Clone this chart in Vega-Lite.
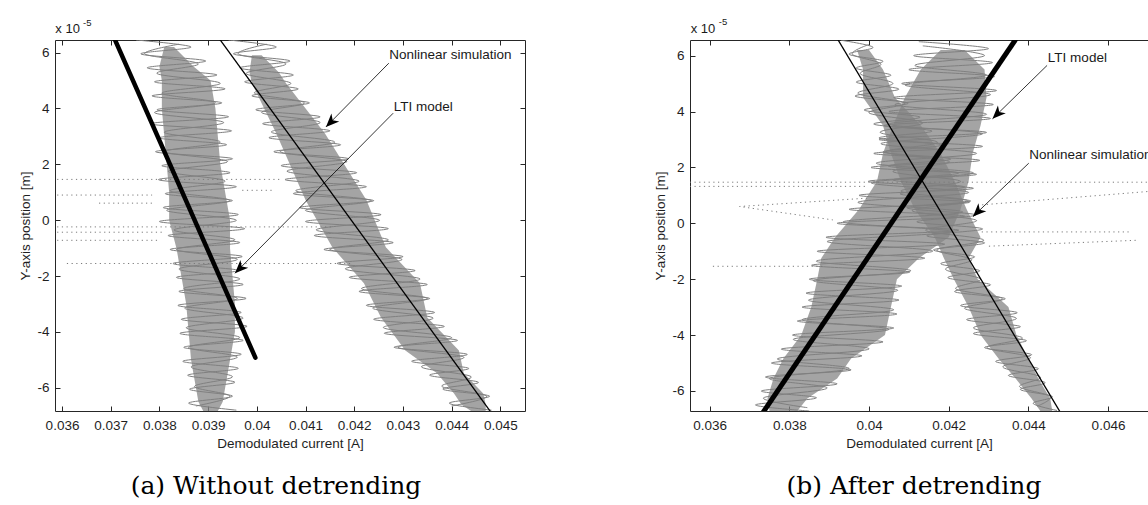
{
"$schema": "https://vega.github.io/schema/vega-lite/v6.json",
"padding": {"left": 18, "top": 16, "right": 0, "bottom": 0},
"spacing": 127,
"config": {
 "view": {"stroke": null},
 "axis": {"grid": false, "domainColor": "#262626", "tickColor": "#262626", "labelColor": "#1f1f1f", "titleColor": "#1f1f1f", "labelFont": "Liberation Sans", "titleFont": "Liberation Sans", "labelFontSize": 13.5, "titleFontSize": 13.5, "titleFontWeight": "normal", "domainWidth": 1, "tickWidth": 1, "labelFlush": false, "labelOverlap": false}
},
"datasets": {
 "aCore": [
  {"c":"L","y":6.2,"x":0.0381,"x2":0.0383},{"c":"L","y":5.5,"x":0.038,"x2":0.0387},{"c":"L","y":5.0,"x":0.03805,"x2":0.03905},{"c":"L","y":4.0,"x":0.03805,"x2":0.03915},{"c":"L","y":3.0,"x":0.0381,"x2":0.0392},{"c":"L","y":2.0,"x":0.03815,"x2":0.03925},{"c":"L","y":1.0,"x":0.0382,"x2":0.03935},{"c":"L","y":0.0,"x":0.0382,"x2":0.03945},{"c":"L","y":-1.0,"x":0.03835,"x2":0.03945},{"c":"L","y":-2.0,"x":0.03845,"x2":0.0395},{"c":"L","y":-3.0,"x":0.03855,"x2":0.03955},{"c":"L","y":-4.0,"x":0.0386,"x2":0.03955},{"c":"L","y":-5.0,"x":0.03865,"x2":0.03945},{"c":"L","y":-6.0,"x":0.03875,"x2":0.03935},{"c":"L","y":-6.5,"x":0.0388,"x2":0.0393},{"c":"L","y":-6.83,"x":0.0389,"x2":0.0392},
  {"c":"R","y":5.9,"x":0.0399,"x2":0.0401},{"c":"R","y":5.3,"x":0.03985,"x2":0.04045},{"c":"R","y":4.9,"x":0.0399,"x2":0.0406},{"c":"R","y":3.1,"x":0.0404,"x2":0.0414},{"c":"R","y":0.72,"x":0.041,"x2":0.04225},{"c":"R","y":-0.97,"x":0.04155,"x2":0.04265},{"c":"R","y":-2.26,"x":0.0422,"x2":0.04335},{"c":"R","y":-3.48,"x":0.04255,"x2":0.0435},{"c":"R","y":-4.66,"x":0.04305,"x2":0.04415},{"c":"R","y":-5.48,"x":0.0437,"x2":0.04425},{"c":"R","y":-6.2,"x":0.04405,"x2":0.04465},{"c":"R","y":-6.6,"x":0.0442,"x2":0.0447},{"c":"R","y":-6.83,"x":0.0444,"x2":0.0447}
 ],
 "aTr": [
  {"t":"L1","i":0,"y":6.45,"x":0.03752},{"t":"L1","i":1,"y":6.2,"x":0.03865},{"t":"L1","i":2,"y":5.95,"x":0.03762},{"t":"L1","i":3,"y":5.7,"x":0.03895},{"t":"L1","i":4,"y":5.45,"x":0.03775},{"t":"L1","i":5,"y":5.2,"x":0.03918},{"t":"L1","i":6,"y":4.95,"x":0.0379},{"t":"L1","i":7,"y":4.7,"x":0.03935},{"t":"L1","i":8,"y":4.45,"x":0.03785},{"t":"L1","i":9,"y":4.2,"x":0.03928},{"t":"L1","i":10,"y":3.95,"x":0.03795},{"t":"L1","i":11,"y":3.7,"x":0.03942},{"t":"L1","i":12,"y":3.45,"x":0.03782},{"t":"L1","i":13,"y":3.2,"x":0.03948},{"t":"L1","i":14,"y":2.95,"x":0.038},{"t":"L1","i":15,"y":2.7,"x":0.03938},{"t":"L1","i":16,"y":2.45,"x":0.03792},{"t":"L1","i":17,"y":2.2,"x":0.0395},{"t":"L1","i":18,"y":1.95,"x":0.03805},{"t":"L1","i":19,"y":1.7,"x":0.03945},{"t":"L1","i":20,"y":1.45,"x":0.03798},{"t":"L1","i":21,"y":1.2,"x":0.03958},{"t":"L1","i":22,"y":0.95,"x":0.03812},{"t":"L1","i":23,"y":0.7,"x":0.0395},{"t":"L1","i":24,"y":0.45,"x":0.03808},{"t":"L1","i":25,"y":0.2,"x":0.03962},{"t":"L1","i":26,"y":-0.05,"x":0.038},{"t":"L1","i":27,"y":-0.3,"x":0.03975},{"t":"L1","i":28,"y":-0.55,"x":0.03818},{"t":"L1","i":29,"y":-0.8,"x":0.03965},{"t":"L1","i":30,"y":-1.05,"x":0.03822},{"t":"L1","i":31,"y":-1.3,"x":0.0397},{"t":"L1","i":32,"y":-1.55,"x":0.03828},{"t":"L1","i":33,"y":-1.8,"x":0.03962},{"t":"L1","i":34,"y":-2.05,"x":0.03835},{"t":"L1","i":35,"y":-2.3,"x":0.03972},{"t":"L1","i":36,"y":-2.55,"x":0.0384},{"t":"L1","i":37,"y":-2.8,"x":0.03978},{"t":"L1","i":38,"y":-3.05,"x":0.03838},{"t":"L1","i":39,"y":-3.3,"x":0.03968},{"t":"L1","i":40,"y":-3.55,"x":0.03845},{"t":"L1","i":41,"y":-3.8,"x":0.0398},{"t":"L1","i":42,"y":-4.05,"x":0.03842},{"t":"L1","i":43,"y":-4.3,"x":0.03972},{"t":"L1","i":44,"y":-4.55,"x":0.0385},{"t":"L1","i":45,"y":-4.8,"x":0.03968},{"t":"L1","i":46,"y":-5.05,"x":0.03848},{"t":"L1","i":47,"y":-5.3,"x":0.03962},{"t":"L1","i":48,"y":-5.55,"x":0.03858},{"t":"L1","i":49,"y":-5.8,"x":0.03955},{"t":"L1","i":50,"y":-6.05,"x":0.03862},{"t":"L1","i":51,"y":-6.3,"x":0.0395},{"t":"L1","i":52,"y":-6.55,"x":0.0386},{"t":"L1","i":53,"y":-6.8,"x":0.03958},
  {"t":"L2","i":0,"y":6.3,"x":0.0384},{"t":"L2","i":1,"y":5.95,"x":0.0377},{"t":"L2","i":2,"y":5.6,"x":0.0388},{"t":"L2","i":3,"y":5.25,"x":0.03795},{"t":"L2","i":4,"y":4.9,"x":0.03925},{"t":"L2","i":5,"y":4.55,"x":0.03805},{"t":"L2","i":6,"y":4.2,"x":0.03915},{"t":"L2","i":7,"y":3.85,"x":0.0379},{"t":"L2","i":8,"y":3.5,"x":0.03932},{"t":"L2","i":9,"y":3.15,"x":0.0381},{"t":"L2","i":10,"y":2.8,"x":0.03925},{"t":"L2","i":11,"y":2.45,"x":0.03812},{"t":"L2","i":12,"y":2.1,"x":0.0394},{"t":"L2","i":13,"y":1.75,"x":0.03818},{"t":"L2","i":14,"y":1.4,"x":0.03935},{"t":"L2","i":15,"y":1.05,"x":0.03822},{"t":"L2","i":16,"y":0.7,"x":0.03945},{"t":"L2","i":17,"y":0.35,"x":0.03815},{"t":"L2","i":18,"y":0.0,"x":0.03958},{"t":"L2","i":19,"y":-0.35,"x":0.0383},{"t":"L2","i":20,"y":-0.7,"x":0.03955},{"t":"L2","i":21,"y":-1.05,"x":0.03835},{"t":"L2","i":22,"y":-1.4,"x":0.0396},{"t":"L2","i":23,"y":-1.75,"x":0.0384},{"t":"L2","i":24,"y":-2.1,"x":0.03965},{"t":"L2","i":25,"y":-2.45,"x":0.0385},{"t":"L2","i":26,"y":-2.8,"x":0.0396},{"t":"L2","i":27,"y":-3.15,"x":0.03852},{"t":"L2","i":28,"y":-3.5,"x":0.03972},{"t":"L2","i":29,"y":-3.85,"x":0.03855},{"t":"L2","i":30,"y":-4.2,"x":0.03965},{"t":"L2","i":31,"y":-4.55,"x":0.0386},{"t":"L2","i":32,"y":-4.9,"x":0.0396},{"t":"L2","i":33,"y":-5.25,"x":0.03865},{"t":"L2","i":34,"y":-5.6,"x":0.0395},{"t":"L2","i":35,"y":-5.95,"x":0.03872},{"t":"L2","i":36,"y":-6.3,"x":0.03945},{"t":"L2","i":37,"y":-6.65,"x":0.03875},
  {"t":"R1","i":0,"y":6.45,"x":0.03942},{"t":"R1","i":1,"y":6.2,"x":0.0404},{"t":"R1","i":2,"y":5.95,"x":0.03952},{"t":"R1","i":3,"y":5.7,"x":0.04068},{"t":"R1","i":4,"y":5.45,"x":0.03965},{"t":"R1","i":5,"y":5.2,"x":0.04075},{"t":"R1","i":6,"y":4.95,"x":0.03975},{"t":"R1","i":7,"y":4.7,"x":0.04085},{"t":"R1","i":8,"y":4.45,"x":0.0399},{"t":"R1","i":9,"y":4.2,"x":0.04108},{"t":"R1","i":10,"y":3.95,"x":0.03998},{"t":"R1","i":11,"y":3.7,"x":0.0413},{"t":"R1","i":12,"y":3.45,"x":0.04012},{"t":"R1","i":13,"y":3.2,"x":0.0415},{"t":"R1","i":14,"y":2.95,"x":0.04025},{"t":"R1","i":15,"y":2.7,"x":0.04172},{"t":"R1","i":16,"y":2.45,"x":0.04035},{"t":"R1","i":17,"y":2.2,"x":0.04188},{"t":"R1","i":18,"y":1.95,"x":0.0405},{"t":"R1","i":19,"y":1.7,"x":0.04205},{"t":"R1","i":20,"y":1.45,"x":0.04058},{"t":"R1","i":21,"y":1.2,"x":0.04225},{"t":"R1","i":22,"y":0.95,"x":0.04075},{"t":"R1","i":23,"y":0.7,"x":0.0424},{"t":"R1","i":24,"y":0.45,"x":0.04088},{"t":"R1","i":25,"y":0.2,"x":0.04255},{"t":"R1","i":26,"y":-0.05,"x":0.041},{"t":"R1","i":27,"y":-0.3,"x":0.0427},{"t":"R1","i":28,"y":-0.55,"x":0.04118},{"t":"R1","i":29,"y":-0.8,"x":0.0428},{"t":"R1","i":30,"y":-1.05,"x":0.04138},{"t":"R1","i":31,"y":-1.3,"x":0.043},{"t":"R1","i":32,"y":-1.55,"x":0.04165},{"t":"R1","i":33,"y":-1.8,"x":0.04325},{"t":"R1","i":34,"y":-2.05,"x":0.0419},{"t":"R1","i":35,"y":-2.3,"x":0.0435},{"t":"R1","i":36,"y":-2.55,"x":0.0421},{"t":"R1","i":37,"y":-2.8,"x":0.04355},{"t":"R1","i":38,"y":-3.05,"x":0.04225},{"t":"R1","i":39,"y":-3.3,"x":0.04365},{"t":"R1","i":40,"y":-3.55,"x":0.0424},{"t":"R1","i":41,"y":-3.8,"x":0.04385},{"t":"R1","i":42,"y":-4.05,"x":0.04262},{"t":"R1","i":43,"y":-4.3,"x":0.04412},{"t":"R1","i":44,"y":-4.55,"x":0.04282},{"t":"R1","i":45,"y":-4.8,"x":0.04432},{"t":"R1","i":46,"y":-5.05,"x":0.04318},{"t":"R1","i":47,"y":-5.3,"x":0.04435},{"t":"R1","i":48,"y":-5.55,"x":0.04355},{"t":"R1","i":49,"y":-5.8,"x":0.04455},{"t":"R1","i":50,"y":-6.05,"x":0.04382},{"t":"R1","i":51,"y":-6.3,"x":0.04478},{"t":"R1","i":52,"y":-6.55,"x":0.04395},{"t":"R1","i":53,"y":-6.8,"x":0.04482},
  {"t":"R2","i":0,"y":6.3,"x":0.0402},{"t":"R2","i":1,"y":5.95,"x":0.03962},{"t":"R2","i":2,"y":5.6,"x":0.0406},{"t":"R2","i":3,"y":5.25,"x":0.03978},{"t":"R2","i":4,"y":4.9,"x":0.0407},{"t":"R2","i":5,"y":4.55,"x":0.03995},{"t":"R2","i":6,"y":4.2,"x":0.04098},{"t":"R2","i":7,"y":3.85,"x":0.0401},{"t":"R2","i":8,"y":3.5,"x":0.0413},{"t":"R2","i":9,"y":3.15,"x":0.0403},{"t":"R2","i":10,"y":2.8,"x":0.0416},{"t":"R2","i":11,"y":2.45,"x":0.04048},{"t":"R2","i":12,"y":2.1,"x":0.04185},{"t":"R2","i":13,"y":1.75,"x":0.04062},{"t":"R2","i":14,"y":1.4,"x":0.0421},{"t":"R2","i":15,"y":1.05,"x":0.0408},{"t":"R2","i":16,"y":0.7,"x":0.04235},{"t":"R2","i":17,"y":0.35,"x":0.041},{"t":"R2","i":18,"y":0.0,"x":0.04252},{"t":"R2","i":19,"y":-0.35,"x":0.04122},{"t":"R2","i":20,"y":-0.7,"x":0.0427},{"t":"R2","i":21,"y":-1.05,"x":0.0415},{"t":"R2","i":22,"y":-1.4,"x":0.04298},{"t":"R2","i":23,"y":-1.75,"x":0.04182},{"t":"R2","i":24,"y":-2.1,"x":0.04335},{"t":"R2","i":25,"y":-2.45,"x":0.04215},{"t":"R2","i":26,"y":-2.8,"x":0.0435},{"t":"R2","i":27,"y":-3.15,"x":0.04238},{"t":"R2","i":28,"y":-3.5,"x":0.04362},{"t":"R2","i":29,"y":-3.85,"x":0.0426},{"t":"R2","i":30,"y":-4.2,"x":0.044},{"t":"R2","i":31,"y":-4.55,"x":0.0429},{"t":"R2","i":32,"y":-4.9,"x":0.04425},{"t":"R2","i":33,"y":-5.25,"x":0.04338},{"t":"R2","i":34,"y":-5.6,"x":0.0444},{"t":"R2","i":35,"y":-5.95,"x":0.0438},{"t":"R2","i":36,"y":-6.3,"x":0.04472},{"t":"R2","i":37,"y":-6.65,"x":0.044}
 ],
 "aDot": [
  {"d":"1","i":0,"x":0.0359,"y":1.46},{"d":"1","i":1,"x":0.04052,"y":1.46},
  {"d":"2","i":0,"x":0.0359,"y":0.9},{"d":"2","i":1,"x":0.03785,"y":0.9},
  {"d":"3","i":0,"x":0.03676,"y":0.61},{"d":"3","i":1,"x":0.03791,"y":0.61},
  {"d":"4","i":0,"x":0.0359,"y":-0.24},{"d":"4","i":1,"x":0.04154,"y":-0.24},
  {"d":"5","i":0,"x":0.0359,"y":-0.43},{"d":"5","i":1,"x":0.03805,"y":-0.43},
  {"d":"6","i":0,"x":0.0359,"y":-0.72},{"d":"6","i":1,"x":0.03799,"y":-0.72},
  {"d":"7","i":0,"x":0.0361,"y":-1.55},{"d":"7","i":1,"x":0.04195,"y":-1.55},
  {"d":"8","i":0,"x":0.0397,"y":1.07},{"d":"8","i":1,"x":0.04031,"y":1.07}
 ],
 "aModel": [
  {"m":"thick","x":0.03695,"y":7.0},{"m":"thick","x":0.03997,"y":-4.92},
  {"m":"thin","x":0.03902,"y":7.0},{"m":"thin","x":0.04486,"y":-7.0}
 ],
 "aArrow": [
  {"a":"NL","i":0,"x":0.04271,"y":5.62},{"a":"NL","i":1,"x":0.04142,"y":3.34},
  {"a":"LTI","i":0,"x":0.0428,"y":3.83},{"a":"LTI","i":1,"x":0.039552,"y":-1.9}
 ],
 "aHead": [{"x":0.04142,"y":3.34},{"x":0.039552,"y":-1.9}],
 "aNote": [{"label":"Nonlinear simulation","x":0.04272,"y":5.91},{"label":"LTI model","x":0.04281,"y":4.06}],
 "aExp": [{"label":"x 10","k":"base","x":0.035863,"y":6.835},{"label":"-5","k":"sup","x":0.036431,"y":7.06}],
 "bCore": [
  {"c":"A","y":6.2,"x":0.0418,"x2":0.0424},{"c":"A","y":5.5,"x":0.0413,"x2":0.0429},{"c":"A","y":4.5,"x":0.0409,"x2":0.04295},{"c":"A","y":3.5,"x":0.0406,"x2":0.0428},{"c":"A","y":2.5,"x":0.04035,"x2":0.0426},{"c":"A","y":1.5,"x":0.0402,"x2":0.0425},{"c":"A","y":0.5,"x":0.03975,"x2":0.0423},{"c":"A","y":-0.5,"x":0.03915,"x2":0.042},{"c":"A","y":-1.25,"x":0.0388,"x2":0.04125},{"c":"A","y":-2,"x":0.0387,"x2":0.0407},{"c":"A","y":-3,"x":0.03855,"x2":0.04055},{"c":"A","y":-4,"x":0.0383,"x2":0.0404},{"c":"A","y":-4.84,"x":0.03785,"x2":0.03955},{"c":"A","y":-5.56,"x":0.0376,"x2":0.0392},{"c":"A","y":-6.27,"x":0.03745,"x2":0.03845},{"c":"A","y":-6.72,"x":0.0375,"x2":0.0382},
  {"c":"D","y":6.2,"x":0.0397,"x2":0.04},{"c":"D","y":5.5,"x":0.03985,"x2":0.04035},{"c":"D","y":4.5,"x":0.03985,"x2":0.04065},{"c":"D","y":3.5,"x":0.04035,"x2":0.0413},{"c":"D","y":2.5,"x":0.04055,"x2":0.0418},{"c":"D","y":1.5,"x":0.0408,"x2":0.04215},{"c":"D","y":0.5,"x":0.04115,"x2":0.04245},{"c":"D","y":-0.5,"x":0.04165,"x2":0.0428},{"c":"D","y":-1.25,"x":0.04188,"x2":0.0425},{"c":"D","y":-2,"x":0.04213,"x2":0.04273},{"c":"D","y":-3,"x":0.0425,"x2":0.0435},{"c":"D","y":-4,"x":0.0428,"x2":0.0437},{"c":"D","y":-4.84,"x":0.04325,"x2":0.044},{"c":"D","y":-5.56,"x":0.04368,"x2":0.04425},{"c":"D","y":-6.27,"x":0.04408,"x2":0.04455},{"c":"D","y":-6.72,"x":0.0443,"x2":0.0446}
 ],
 "bTr": [
  {"t":"A1","i":0,"y":6.5,"x":0.04125},{"t":"A1","i":1,"y":6.25,"x":0.043},{"t":"A1","i":2,"y":6.0,"x":0.04112},{"t":"A1","i":3,"y":5.75,"x":0.0431},{"t":"A1","i":4,"y":5.5,"x":0.041},{"t":"A1","i":5,"y":5.25,"x":0.04315},{"t":"A1","i":6,"y":5.0,"x":0.04082},{"t":"A1","i":7,"y":4.75,"x":0.0432},{"t":"A1","i":8,"y":4.5,"x":0.04062},{"t":"A1","i":9,"y":4.25,"x":0.04312},{"t":"A1","i":10,"y":4.0,"x":0.0405},{"t":"A1","i":11,"y":3.75,"x":0.04305},{"t":"A1","i":12,"y":3.5,"x":0.04038},{"t":"A1","i":13,"y":3.25,"x":0.04295},{"t":"A1","i":14,"y":3.0,"x":0.04025},{"t":"A1","i":15,"y":2.75,"x":0.04285},{"t":"A1","i":16,"y":2.5,"x":0.04012},{"t":"A1","i":17,"y":2.25,"x":0.04278},{"t":"A1","i":18,"y":2.0,"x":0.04005},{"t":"A1","i":19,"y":1.75,"x":0.0427},{"t":"A1","i":20,"y":1.5,"x":0.03998},{"t":"A1","i":21,"y":1.25,"x":0.04262},{"t":"A1","i":22,"y":1.0,"x":0.03975},{"t":"A1","i":23,"y":0.75,"x":0.04252},{"t":"A1","i":24,"y":0.5,"x":0.0395},{"t":"A1","i":25,"y":0.25,"x":0.0424},{"t":"A1","i":26,"y":0.0,"x":0.0392},{"t":"A1","i":27,"y":-0.25,"x":0.04225},{"t":"A1","i":28,"y":-0.5,"x":0.03892},{"t":"A1","i":29,"y":-0.75,"x":0.0419},{"t":"A1","i":30,"y":-1.0,"x":0.0387},{"t":"A1","i":31,"y":-1.25,"x":0.0414},{"t":"A1","i":32,"y":-1.5,"x":0.03856},{"t":"A1","i":33,"y":-1.75,"x":0.04102},{"t":"A1","i":34,"y":-2.0,"x":0.0385},{"t":"A1","i":35,"y":-2.25,"x":0.04082},{"t":"A1","i":36,"y":-2.5,"x":0.03842},{"t":"A1","i":37,"y":-2.75,"x":0.04075},{"t":"A1","i":38,"y":-3.0,"x":0.03832},{"t":"A1","i":39,"y":-3.25,"x":0.0407},{"t":"A1","i":40,"y":-3.5,"x":0.0382},{"t":"A1","i":41,"y":-3.75,"x":0.04062},{"t":"A1","i":42,"y":-4.0,"x":0.03808},{"t":"A1","i":43,"y":-4.25,"x":0.04035},{"t":"A1","i":44,"y":-4.5,"x":0.0378},{"t":"A1","i":45,"y":-4.75,"x":0.03982},{"t":"A1","i":46,"y":-5.0,"x":0.03755},{"t":"A1","i":47,"y":-5.25,"x":0.03955},{"t":"A1","i":48,"y":-5.5,"x":0.0374},{"t":"A1","i":49,"y":-5.75,"x":0.0392},{"t":"A1","i":50,"y":-6.0,"x":0.0373},{"t":"A1","i":51,"y":-6.25,"x":0.03868},{"t":"A1","i":52,"y":-6.5,"x":0.03715},{"t":"A1","i":53,"y":-6.72,"x":0.0385},
  {"t":"A2","i":0,"y":6.35,"x":0.04135},{"t":"A2","i":1,"y":6.0,"x":0.0429},{"t":"A2","i":2,"y":5.65,"x":0.04115},{"t":"A2","i":3,"y":5.3,"x":0.04295},{"t":"A2","i":4,"y":4.95,"x":0.0409},{"t":"A2","i":5,"y":4.6,"x":0.04305},{"t":"A2","i":6,"y":4.25,"x":0.04065},{"t":"A2","i":7,"y":3.9,"x":0.04295},{"t":"A2","i":8,"y":3.55,"x":0.0405},{"t":"A2","i":9,"y":3.2,"x":0.04285},{"t":"A2","i":10,"y":2.85,"x":0.0403},{"t":"A2","i":11,"y":2.5,"x":0.0427},{"t":"A2","i":12,"y":2.15,"x":0.04018},{"t":"A2","i":13,"y":1.8,"x":0.04262},{"t":"A2","i":14,"y":1.45,"x":0.04005},{"t":"A2","i":15,"y":1.1,"x":0.0425},{"t":"A2","i":16,"y":0.75,"x":0.03972},{"t":"A2","i":17,"y":0.4,"x":0.04235},{"t":"A2","i":18,"y":0.05,"x":0.03935},{"t":"A2","i":19,"y":-0.3,"x":0.04205},{"t":"A2","i":20,"y":-0.65,"x":0.03895},{"t":"A2","i":21,"y":-1.0,"x":0.0416},{"t":"A2","i":22,"y":-1.35,"x":0.03868},{"t":"A2","i":23,"y":-1.7,"x":0.04105},{"t":"A2","i":24,"y":-2.05,"x":0.0386},{"t":"A2","i":25,"y":-2.4,"x":0.04072},{"t":"A2","i":26,"y":-2.75,"x":0.03848},{"t":"A2","i":27,"y":-3.1,"x":0.04062},{"t":"A2","i":28,"y":-3.45,"x":0.03832},{"t":"A2","i":29,"y":-3.8,"x":0.0405},{"t":"A2","i":30,"y":-4.15,"x":0.0381},{"t":"A2","i":31,"y":-4.5,"x":0.04},{"t":"A2","i":32,"y":-4.85,"x":0.0377},{"t":"A2","i":33,"y":-5.2,"x":0.0395},{"t":"A2","i":34,"y":-5.55,"x":0.0375},{"t":"A2","i":35,"y":-5.9,"x":0.03895},{"t":"A2","i":36,"y":-6.25,"x":0.03735},{"t":"A2","i":37,"y":-6.6,"x":0.03845},
  {"t":"D1","i":0,"y":6.55,"x":0.0393},{"t":"D1","i":1,"y":6.3,"x":0.0401},{"t":"D1","i":2,"y":6.05,"x":0.0395},{"t":"D1","i":3,"y":5.8,"x":0.04035},{"t":"D1","i":4,"y":5.55,"x":0.03968},{"t":"D1","i":5,"y":5.3,"x":0.04055},{"t":"D1","i":6,"y":5.05,"x":0.03968},{"t":"D1","i":7,"y":4.8,"x":0.04075},{"t":"D1","i":8,"y":4.55,"x":0.03965},{"t":"D1","i":9,"y":4.3,"x":0.04098},{"t":"D1","i":10,"y":4.05,"x":0.03988},{"t":"D1","i":11,"y":3.8,"x":0.04128},{"t":"D1","i":12,"y":3.55,"x":0.04012},{"t":"D1","i":13,"y":3.3,"x":0.04158},{"t":"D1","i":14,"y":3.05,"x":0.04025},{"t":"D1","i":15,"y":2.8,"x":0.04182},{"t":"D1","i":16,"y":2.55,"x":0.04035},{"t":"D1","i":17,"y":2.3,"x":0.04205},{"t":"D1","i":18,"y":2.05,"x":0.04048},{"t":"D1","i":19,"y":1.8,"x":0.04225},{"t":"D1","i":20,"y":1.55,"x":0.0406},{"t":"D1","i":21,"y":1.3,"x":0.0424},{"t":"D1","i":22,"y":1.05,"x":0.04078},{"t":"D1","i":23,"y":0.8,"x":0.04255},{"t":"D1","i":24,"y":0.55,"x":0.04095},{"t":"D1","i":25,"y":0.3,"x":0.04268},{"t":"D1","i":26,"y":0.05,"x":0.0412},{"t":"D1","i":27,"y":-0.2,"x":0.04285},{"t":"D1","i":28,"y":-0.45,"x":0.04145},{"t":"D1","i":29,"y":-0.7,"x":0.0429},{"t":"D1","i":30,"y":-0.95,"x":0.04162},{"t":"D1","i":31,"y":-1.2,"x":0.04265},{"t":"D1","i":32,"y":-1.45,"x":0.0418},{"t":"D1","i":33,"y":-1.7,"x":0.04278},{"t":"D1","i":34,"y":-1.95,"x":0.04198},{"t":"D1","i":35,"y":-2.2,"x":0.04305},{"t":"D1","i":36,"y":-2.45,"x":0.04215},{"t":"D1","i":37,"y":-2.7,"x":0.04342},{"t":"D1","i":38,"y":-2.95,"x":0.0423},{"t":"D1","i":39,"y":-3.2,"x":0.04372},{"t":"D1","i":40,"y":-3.45,"x":0.04245},{"t":"D1","i":41,"y":-3.7,"x":0.0438},{"t":"D1","i":42,"y":-3.95,"x":0.04262},{"t":"D1","i":43,"y":-4.2,"x":0.04395},{"t":"D1","i":44,"y":-4.45,"x":0.0429},{"t":"D1","i":45,"y":-4.7,"x":0.04408},{"t":"D1","i":46,"y":-4.95,"x":0.04318},{"t":"D1","i":47,"y":-5.2,"x":0.04425},{"t":"D1","i":48,"y":-5.45,"x":0.0435},{"t":"D1","i":49,"y":-5.7,"x":0.04442},{"t":"D1","i":50,"y":-5.95,"x":0.0438},{"t":"D1","i":51,"y":-6.2,"x":0.0446},{"t":"D1","i":52,"y":-6.45,"x":0.04412},{"t":"D1","i":53,"y":-6.7,"x":0.04472},
  {"t":"D2","i":0,"y":6.4,"x":0.04},{"t":"D2","i":1,"y":6.05,"x":0.03958},{"t":"D2","i":2,"y":5.7,"x":0.0403},{"t":"D2","i":3,"y":5.35,"x":0.03978},{"t":"D2","i":4,"y":5.0,"x":0.0406},{"t":"D2","i":5,"y":4.65,"x":0.03972},{"t":"D2","i":6,"y":4.3,"x":0.0409},{"t":"D2","i":7,"y":3.95,"x":0.04},{"t":"D2","i":8,"y":3.6,"x":0.04135},{"t":"D2","i":9,"y":3.25,"x":0.04028},{"t":"D2","i":10,"y":2.9,"x":0.04172},{"t":"D2","i":11,"y":2.55,"x":0.04042},{"t":"D2","i":12,"y":2.2,"x":0.04202},{"t":"D2","i":13,"y":1.85,"x":0.0406},{"t":"D2","i":14,"y":1.5,"x":0.0423},{"t":"D2","i":15,"y":1.15,"x":0.0408},{"t":"D2","i":16,"y":0.8,"x":0.04248},{"t":"D2","i":17,"y":0.45,"x":0.04108},{"t":"D2","i":18,"y":0.1,"x":0.0427},{"t":"D2","i":19,"y":-0.25,"x":0.04142},{"t":"D2","i":20,"y":-0.6,"x":0.04288},{"t":"D2","i":21,"y":-0.95,"x":0.0417},{"t":"D2","i":22,"y":-1.3,"x":0.04258},{"t":"D2","i":23,"y":-1.65,"x":0.04192},{"t":"D2","i":24,"y":-2.0,"x":0.0428},{"t":"D2","i":25,"y":-2.35,"x":0.04218},{"t":"D2","i":26,"y":-2.7,"x":0.04335},{"t":"D2","i":27,"y":-3.05,"x":0.0424},{"t":"D2","i":28,"y":-3.4,"x":0.0437},{"t":"D2","i":29,"y":-3.75,"x":0.04262},{"t":"D2","i":30,"y":-4.1,"x":0.04385},{"t":"D2","i":31,"y":-4.45,"x":0.04296},{"t":"D2","i":32,"y":-4.8,"x":0.04405},{"t":"D2","i":33,"y":-5.15,"x":0.04336},{"t":"D2","i":34,"y":-5.5,"x":0.0443},{"t":"D2","i":35,"y":-5.85,"x":0.04378},{"t":"D2","i":36,"y":-6.2,"x":0.04455},{"t":"D2","i":37,"y":-6.55,"x":0.04422}
 ],
 "bDot": [
  {"d":"1","i":0,"x":0.0355,"y":1.47},{"d":"1","i":1,"x":0.04703,"y":1.47},
  {"d":"2","i":0,"x":0.0355,"y":1.32},{"d":"2","i":1,"x":0.03995,"y":1.32},
  {"d":"3","i":0,"x":0.03995,"y":0.9},{"d":"3","i":1,"x":0.03675,"y":0.6},{"d":"3","i":2,"x":0.03909,"y":0.12},
  {"d":"4","i":0,"x":0.04284,"y":0.66},{"d":"4","i":1,"x":0.04703,"y":1.14},
  {"d":"5","i":0,"x":0.04283,"y":-0.31},{"d":"5","i":1,"x":0.0466,"y":-0.31},
  {"d":"6","i":0,"x":0.04301,"y":-0.82},{"d":"6","i":1,"x":0.0467,"y":-0.61},
  {"d":"7","i":0,"x":0.03608,"y":-1.54},{"d":"7","i":1,"x":0.03884,"y":-1.54}
 ],
 "bModel": [
  {"m":"thick","x":0.03723,"y":-7.0},{"m":"thick","x":0.04388,"y":7.0},
  {"m":"thin","x":0.03904,"y":7.0},{"m":"thin","x":0.0449,"y":-7.0}
 ],
 "bArrow": [
  {"a":"LTI","i":0,"x":0.04447,"y":5.65},{"a":"LTI","i":1,"x":0.0431,"y":3.74},
  {"a":"NL","i":0,"x":0.04401,"y":2.15},{"a":"NL","i":1,"x":0.04261,"y":0.24}
 ],
 "bHead": [{"x":0.0431,"y":3.74},{"x":0.04261,"y":0.24}],
 "bNote": [{"label":"LTI model","x":0.04449,"y":5.93},{"label":"Nonlinear simulation","x":0.04402,"y":2.46}],
 "bExp": [{"label":"x 10","k":"base","x":0.035523,"y":6.957},{"label":"-5","k":"sup","x":0.036226,"y":7.21}]
},
"hconcat": [
 {
  "width": 470, "height": 371,
  "title": {"text": "(a) Without detrending", "orient": "bottom", "anchor": "middle", "frame": "group", "font": "DejaVu Serif", "fontSize": 25, "fontWeight": "normal", "color": "#000000", "offset": 24, "dx": -14},
  "resolve": {"axis": {"x": "independent", "y": "independent"}},
  "layer": [
   {"data": {"name": "aCore"},
    "mark": {"type": "area", "orient": "horizontal", "color": "#858585", "opacity": 0.75, "clip": true},
    "encoding": {
     "y": {"field": "y", "type": "quantitative", "scale": {"domain": [-6.83, 6.45], "nice": false, "zero": false},
           "axis": {"orient": "left", "values": [-6,-4,-2,0,2,4,6], "labelExpr": "'' + datum.value", "title": "Y-axis position [m]", "tickSize": -5, "labelPadding": 11, "titlePadding": 4}},
     "x": {"field": "x", "type": "quantitative", "scale": {"domain": [0.035856, 0.045507], "nice": false, "zero": false},
           "axis": {"orient": "bottom", "values": [0.036,0.037,0.038,0.039,0.04,0.041,0.042,0.043,0.044,0.045], "format": ".3~f", "title": "Demodulated current [A]", "tickSize": -5, "labelPadding": 12, "titlePadding": 5}},
     "x2": {"field": "x2"},
     "detail": {"field": "c"}
    }},
   {"data": {"name": "aTr"},
    "mark": {"type": "line", "color": "#808080", "strokeWidth": 1, "interpolate": "cardinal", "clip": true},
    "encoding": {
     "x": {"field": "x", "type": "quantitative", "scale": {"domain": [0.035856, 0.045507], "nice": false, "zero": false},
           "axis": {"orient": "top", "values": [0.036,0.037,0.038,0.039,0.04,0.041,0.042,0.043,0.044,0.045], "labels": false, "title": null, "tickSize": -5}},
     "y": {"field": "y", "type": "quantitative", "scale": {"domain": [-6.83, 6.45], "nice": false, "zero": false},
           "axis": {"orient": "right", "values": [-6,-4,-2,0,2,4,6], "labels": false, "title": null, "tickSize": -5}},
     "detail": {"field": "t"},
     "order": {"field": "i", "type": "quantitative"}
    }},
   {"data": {"name": "aDot"},
    "mark": {"type": "line", "color": "#7a7a7a", "strokeWidth": 1, "strokeDash": [1.2, 3.5], "clip": true},
    "encoding": {
     "x": {"field": "x", "type": "quantitative", "scale": {"domain": [0.035856, 0.045507], "nice": false, "zero": false}, "axis": null},
     "y": {"field": "y", "type": "quantitative", "scale": {"domain": [-6.83, 6.45], "nice": false, "zero": false}, "axis": null},
     "detail": {"field": "d"},
     "order": {"field": "i", "type": "quantitative"}
    }},
   {"data": {"name": "aModel"},
    "transform": [{"filter": "datum.m == 'thick'"}],
    "mark": {"type": "line", "color": "#000000", "strokeWidth": 4.5, "strokeCap": "round", "clip": true},
    "encoding": {
     "x": {"field": "x", "type": "quantitative", "scale": {"domain": [0.035856, 0.045507], "nice": false, "zero": false}, "axis": null},
     "y": {"field": "y", "type": "quantitative", "scale": {"domain": [-6.83, 6.45], "nice": false, "zero": false}, "axis": null}
    }},
   {"data": {"name": "aModel"},
    "transform": [{"filter": "datum.m == 'thin'"}],
    "mark": {"type": "line", "color": "#000000", "strokeWidth": 1.3, "clip": true},
    "encoding": {
     "x": {"field": "x", "type": "quantitative", "scale": {"domain": [0.035856, 0.045507], "nice": false, "zero": false}, "axis": null},
     "y": {"field": "y", "type": "quantitative", "scale": {"domain": [-6.83, 6.45], "nice": false, "zero": false}, "axis": null}
    }},
   {"data": {"name": "aArrow"},
    "mark": {"type": "line", "color": "#000000", "strokeWidth": 0.8, "clip": true},
    "encoding": {
     "x": {"field": "x", "type": "quantitative", "scale": {"domain": [0.035856, 0.045507], "nice": false, "zero": false}, "axis": null},
     "y": {"field": "y", "type": "quantitative", "scale": {"domain": [-6.83, 6.45], "nice": false, "zero": false}, "axis": null},
     "detail": {"field": "a"},
     "order": {"field": "i", "type": "quantitative"}
    }},
   {"data": {"name": "aHead"},
    "mark": {"type": "point", "shape": "M0,0L0.42,1L0,0.72L-0.42,1Z", "size": 700, "angle": 225, "filled": true, "color": "#000000", "opacity": 1, "strokeWidth": 0},
    "encoding": {
     "x": {"field": "x", "type": "quantitative", "scale": {"domain": [0.035856, 0.045507], "nice": false, "zero": false}, "axis": null},
     "y": {"field": "y", "type": "quantitative", "scale": {"domain": [-6.83, 6.45], "nice": false, "zero": false}, "axis": null}
    }},
   {"data": {"name": "aNote"},
    "mark": {"type": "text", "align": "left", "baseline": "middle", "font": "Liberation Sans", "fontSize": 13.5, "color": "#1a1a1a", "clip": true},
    "encoding": {
     "x": {"field": "x", "type": "quantitative", "scale": {"domain": [0.035856, 0.045507], "nice": false, "zero": false}, "axis": null},
     "y": {"field": "y", "type": "quantitative", "scale": {"domain": [-6.83, 6.45], "nice": false, "zero": false}, "axis": null},
     "text": {"field": "label"}
    }},
   {"data": {"name": "aExp"},
    "transform": [{"filter": "datum.k == 'base'"}],
    "mark": {"type": "text", "align": "left", "baseline": "middle", "font": "Liberation Sans", "fontSize": 13, "color": "#1a1a1a"},
    "encoding": {
     "x": {"field": "x", "type": "quantitative", "scale": {"domain": [0.035856, 0.045507], "nice": false, "zero": false}, "axis": null},
     "y": {"field": "y", "type": "quantitative", "scale": {"domain": [-6.83, 6.45], "nice": false, "zero": false}, "axis": null},
     "text": {"field": "label"}
    }},
   {"data": {"name": "aExp"},
    "transform": [{"filter": "datum.k == 'sup'"}],
    "mark": {"type": "text", "align": "left", "baseline": "middle", "font": "Liberation Sans", "fontSize": 9.5, "color": "#1a1a1a"},
    "encoding": {
     "x": {"field": "x", "type": "quantitative", "scale": {"domain": [0.035856, 0.045507], "nice": false, "zero": false}, "axis": null},
     "y": {"field": "y", "type": "quantitative", "scale": {"domain": [-6.83, 6.45], "nice": false, "zero": false}, "axis": null},
     "text": {"field": "label"}
    }}
  ]
 },
 {
  "width": 458, "height": 371,
  "title": {"text": "(b) After detrending", "orient": "bottom", "anchor": "middle", "frame": "group", "font": "DejaVu Serif", "fontSize": 25, "fontWeight": "normal", "color": "#000000", "offset": 24, "dx": -5},
  "resolve": {"axis": {"x": "independent", "y": "independent"}},
  "layer": [
   {"data": {"name": "bCore"},
    "mark": {"type": "area", "orient": "horizontal", "color": "#858585", "opacity": 0.75, "clip": true},
    "encoding": {
     "y": {"field": "y", "type": "quantitative", "scale": {"domain": [-6.72, 6.56], "nice": false, "zero": false},
           "axis": {"orient": "left", "values": [-6,-4,-2,0,2,4,6], "labelExpr": "'' + datum.value", "title": "Y-axis position [m]", "tickSize": -5, "labelPadding": 11, "titlePadding": 4}},
     "x": {"field": "x", "type": "quantitative", "scale": {"domain": [0.035505, 0.047004], "nice": false, "zero": false},
           "axis": {"orient": "bottom", "values": [0.036,0.038,0.04,0.042,0.044,0.046], "format": ".3~f", "title": "Demodulated current [A]", "tickSize": -5, "labelPadding": 12, "titlePadding": 5}},
     "x2": {"field": "x2"},
     "detail": {"field": "c"}
    }},
   {"data": {"name": "bTr"},
    "mark": {"type": "line", "color": "#808080", "strokeWidth": 1, "interpolate": "cardinal", "clip": true},
    "encoding": {
     "x": {"field": "x", "type": "quantitative", "scale": {"domain": [0.035505, 0.047004], "nice": false, "zero": false},
           "axis": {"orient": "top", "values": [0.036,0.038,0.04,0.042,0.044,0.046], "labels": false, "title": null, "tickSize": -5}},
     "y": {"field": "y", "type": "quantitative", "scale": {"domain": [-6.72, 6.56], "nice": false, "zero": false}, "axis": null},
     "detail": {"field": "t"},
     "order": {"field": "i", "type": "quantitative"}
    }},
   {"data": {"name": "bDot"},
    "mark": {"type": "line", "color": "#7a7a7a", "strokeWidth": 1, "strokeDash": [1.2, 3.5], "clip": true},
    "encoding": {
     "x": {"field": "x", "type": "quantitative", "scale": {"domain": [0.035505, 0.047004], "nice": false, "zero": false}, "axis": null},
     "y": {"field": "y", "type": "quantitative", "scale": {"domain": [-6.72, 6.56], "nice": false, "zero": false}, "axis": null},
     "detail": {"field": "d"},
     "order": {"field": "i", "type": "quantitative"}
    }},
   {"data": {"name": "bModel"},
    "transform": [{"filter": "datum.m == 'thick'"}],
    "mark": {"type": "line", "color": "#000000", "strokeWidth": 5, "clip": true},
    "encoding": {
     "x": {"field": "x", "type": "quantitative", "scale": {"domain": [0.035505, 0.047004], "nice": false, "zero": false}, "axis": null},
     "y": {"field": "y", "type": "quantitative", "scale": {"domain": [-6.72, 6.56], "nice": false, "zero": false}, "axis": null}
    }},
   {"data": {"name": "bModel"},
    "transform": [{"filter": "datum.m == 'thin'"}],
    "mark": {"type": "line", "color": "#000000", "strokeWidth": 1.3, "clip": true},
    "encoding": {
     "x": {"field": "x", "type": "quantitative", "scale": {"domain": [0.035505, 0.047004], "nice": false, "zero": false}, "axis": null},
     "y": {"field": "y", "type": "quantitative", "scale": {"domain": [-6.72, 6.56], "nice": false, "zero": false}, "axis": null}
    }},
   {"data": {"name": "bArrow"},
    "mark": {"type": "line", "color": "#000000", "strokeWidth": 0.8, "clip": true},
    "encoding": {
     "x": {"field": "x", "type": "quantitative", "scale": {"domain": [0.035505, 0.047004], "nice": false, "zero": false}, "axis": null},
     "y": {"field": "y", "type": "quantitative", "scale": {"domain": [-6.72, 6.56], "nice": false, "zero": false}, "axis": null},
     "detail": {"field": "a"},
     "order": {"field": "i", "type": "quantitative"}
    }},
   {"data": {"name": "bHead"},
    "mark": {"type": "point", "shape": "M0,0L0.42,1L0,0.72L-0.42,1Z", "size": 700, "angle": 225, "filled": true, "color": "#000000", "opacity": 1, "strokeWidth": 0},
    "encoding": {
     "x": {"field": "x", "type": "quantitative", "scale": {"domain": [0.035505, 0.047004], "nice": false, "zero": false}, "axis": null},
     "y": {"field": "y", "type": "quantitative", "scale": {"domain": [-6.72, 6.56], "nice": false, "zero": false}, "axis": null}
    }},
   {"data": {"name": "bNote"},
    "mark": {"type": "text", "align": "left", "baseline": "middle", "font": "Liberation Sans", "fontSize": 13.5, "color": "#1a1a1a", "clip": true},
    "encoding": {
     "x": {"field": "x", "type": "quantitative", "scale": {"domain": [0.035505, 0.047004], "nice": false, "zero": false}, "axis": null},
     "y": {"field": "y", "type": "quantitative", "scale": {"domain": [-6.72, 6.56], "nice": false, "zero": false}, "axis": null},
     "text": {"field": "label"}
    }},
   {"data": {"name": "bExp"},
    "transform": [{"filter": "datum.k == 'base'"}],
    "mark": {"type": "text", "align": "left", "baseline": "middle", "font": "Liberation Sans", "fontSize": 13, "color": "#1a1a1a"},
    "encoding": {
     "x": {"field": "x", "type": "quantitative", "scale": {"domain": [0.035505, 0.047004], "nice": false, "zero": false}, "axis": null},
     "y": {"field": "y", "type": "quantitative", "scale": {"domain": [-6.72, 6.56], "nice": false, "zero": false}, "axis": null},
     "text": {"field": "label"}
    }},
   {"data": {"name": "bExp"},
    "transform": [{"filter": "datum.k == 'sup'"}],
    "mark": {"type": "text", "align": "left", "baseline": "middle", "font": "Liberation Sans", "fontSize": 9.5, "color": "#1a1a1a"},
    "encoding": {
     "x": {"field": "x", "type": "quantitative", "scale": {"domain": [0.035505, 0.047004], "nice": false, "zero": false}, "axis": null},
     "y": {"field": "y", "type": "quantitative", "scale": {"domain": [-6.72, 6.56], "nice": false, "zero": false}, "axis": null},
     "text": {"field": "label"}
    }}
  ]
 }
]
}
